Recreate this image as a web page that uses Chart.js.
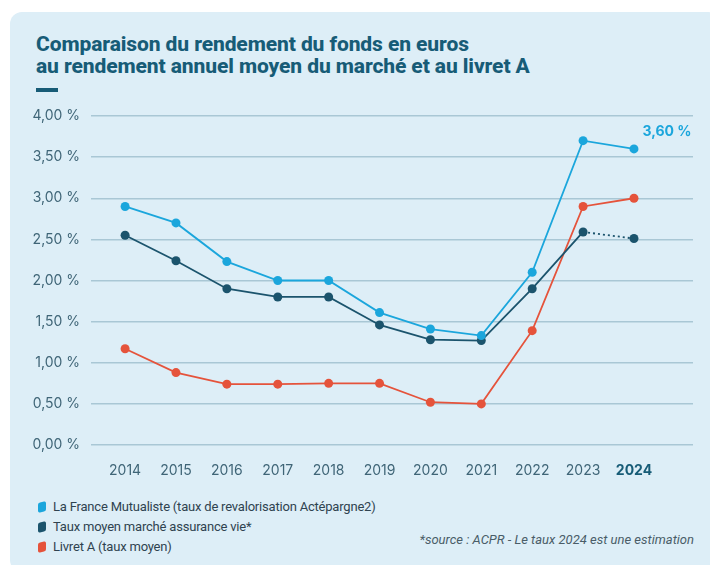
<!DOCTYPE html>
<html lang="fr">
<head>
<meta charset="utf-8">
<script src="https://cdn.jsdelivr.net/npm/chart.js@4.4.1/dist/chart.umd.min.js"></script>
<style>
  body { margin: 0; background: #ffffff; font-family: Roboto, sans-serif; }
  #card {
    position: absolute; left: 10px; top: 12px; width: 710px; height: 560px;
    background: #ddeef7; border-radius: 12px;
  }
  #title {
    position: absolute; left: 36px; top: 33px; margin: 0;
    font: 800 21px/22px Roboto, sans-serif; letter-spacing: -0.1px; color: #175c77;
  }
  #dash { position: absolute; left: 36px; top: 88px; width: 22px; height: 4px; background: #175c77; }
  #chart-box { position: absolute; left: 0; top: 95px; width: 710px; height: 390px; }
  #legend { position: absolute; left: 38px; top: 497px; font: 13px Roboto, sans-serif; color: #2f4350; letter-spacing: -0.2px; }
  #legend div { height: 20px; line-height: 20px; }
  #legend span.sw {
    display: inline-block; width: 8px; height: 10px; border-radius: 2px; margin-right: 7px;
    vertical-align: -1px; transform: skewY(-12deg);
  }
  #source {
    position: absolute; right: 16px; top: 532px; font: italic 13px Roboto, sans-serif; color: #4a5d68;
  }
</style>
</head>
<body>
<div id="card"></div>
<h1 id="title">Comparaison du rendement du fonds en euros<br>au rendement annuel moyen du marché et au livret A</h1>
<div id="dash"></div>
<div id="chart-box"><canvas id="chart-rendement"></canvas></div>
<div id="legend">
  <div><span class="sw" style="background:#1ba6dc"></span>La France Mutualiste (taux de revalorisation Actépargne2)</div>
  <div><span class="sw" style="background:#1b546d"></span>Taux moyen marché assurance vie*</div>
  <div><span class="sw" style="background:#e5533b"></span>Livret A (taux moyen)</div>
</div>
<div id="source">*source : ACPR - Le taux 2024 est une estimation</div>

<script>
const years = [2014, 2015, 2016, 2017, 2018, 2019, 2020, 2021, 2022, 2023, 2024]

const franceMutualiste = [2.90, 2.70, 2.23, 2.00, 2.00, 1.61, 1.41, 1.33, 2.10, 3.70, 3.60]
const tauxMarche = [2.55, 2.24, 1.90, 1.80, 1.80, 1.46, 1.28, 1.27, 1.90, 2.59, 2.51]
const livretA = [1.17, 0.88, 0.74, 0.74, 0.75, 0.75, 0.52, 0.50, 1.39, 2.90, 3.00]

const yTicks = [0, 0.5, 1, 1.5, 2, 2.5, 3, 3.5, 4]

const lastLabel = '3,60 %'

const blue = '#1ba6dc'
const navy = '#1b546d'
const red = '#e5533b'

function serie(values, color) {
    return {
        data: values.map((v, i) => ({ x: years[i], y: v })),
        borderColor: color,
        backgroundColor: color,
        pointBackgroundColor: color,
        pointBorderWidth: 0,
        pointRadius: 4.5,
        borderWidth: 1.8,
        tension: 0,
        fill: false
    }
}

const dsMarche = serie(tauxMarche, navy)
// 2024 is an estimate -> dotted last segment
dsMarche.segment = {
    borderDash: ctx => ctx.p1DataIndex === years.length - 1 ? [2, 3] : undefined
}

const lastValuePlugin = {
    id: 'lastValue',
    afterDatasetsDraw(chart) {
        const { ctx, scales } = chart
        const x = scales.x.getPixelForValue(years[years.length - 1]) + 33
        const y = scales.y.getPixelForValue(franceMutualiste[franceMutualiste.length - 1]) - 17
        ctx.save()
        ctx.font = '700 14px Inter, Roboto, sans-serif'
        ctx.fillStyle = blue
        ctx.textAlign = 'center'
        ctx.textBaseline = 'middle'
        ctx.fillText(lastLabel, x, y)
        ctx.restore()
    }
}

const configRendement = new Chart(
    document.getElementById('chart-rendement'), {
    type: 'line',
    data: {
        datasets: [
            serie(franceMutualiste, blue),
            dsMarche,
            serie(livretA, red)
        ]
    },
    plugins: [lastValuePlugin],
    options: {
        maintainAspectRatio: false,
        responsive: true,
        animation: false,
        layout: { padding: { top: 21, right: 17, bottom: 10, left: 0 } },
        plugins: {
            legend: { display: false },
            tooltip: { enabled: false }
        },
        scales: {
            x: {
                type: 'linear',
                min: 2013.33,
                max: 2025.16,
                afterBuildTicks: scale => { scale.ticks = years.map(v => ({ value: v })) },
                afterFit: scale => { scale.height = 30 },
                grid: { display: false },
                border: { display: false },
                ticks: {
                    padding: 9,
                    autoSkip: false,
                    maxRotation: 0,
                    callback: v => String(v),
                    color: ctx => ctx.tick && ctx.tick.value === 2024 ? '#175c77' : '#3f6577',
                    font: ctx => ({
                        family: 'Inter, Roboto, sans-serif',
                        size: 14,
                        weight: ctx.tick && ctx.tick.value === 2024 ? '700' : '400'
                    })
                }
            },
            y: {
                min: 0,
                max: 4,
                afterBuildTicks: scale => { scale.ticks = yTicks.map(v => ({ value: v })) },
                afterFit: scale => { scale.width = 91 },
                grid: { color: '#a9c7d5', lineWidth: 1.4, drawTicks: false },
                border: { display: false },
                ticks: {
                    padding: 11,
                    color: '#3f6577',
                    font: { family: 'Inter, Roboto, sans-serif', size: 14 },
                    callback: v => v.toFixed(2).replace('.', ',') + ' %'
                }
            }
        }
    }
})
</script>
</body>
</html>
